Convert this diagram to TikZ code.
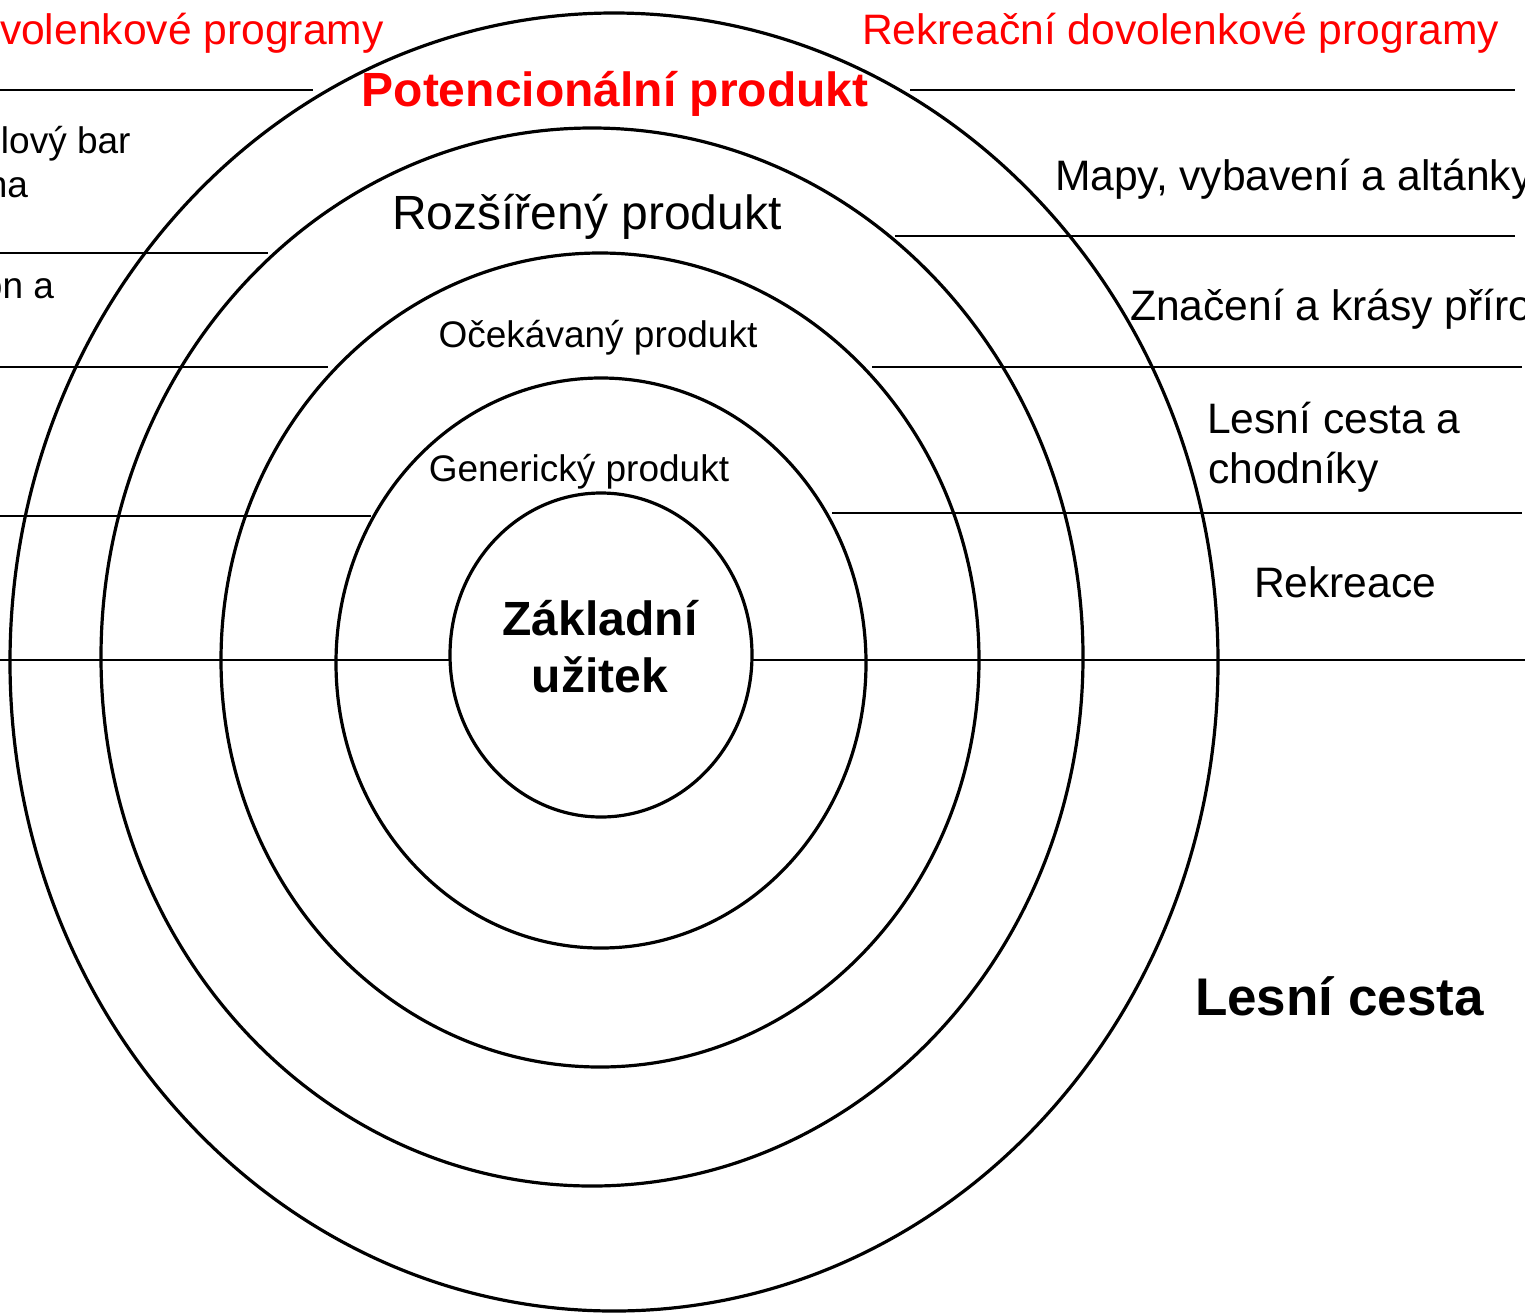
\documentclass[tikz,border=0pt]{standalone}
\usepackage{fontspec}
\setmainfont{Liberation Sans}
\definecolor{redtxt}{RGB}{255,0,0}
\begin{document}
\begin{tikzpicture}[x=1pt,y=-1pt,
  ring/.style={draw=black,line width=3.2pt},
  rule/.style={draw=black,line width=1.6pt},
  lbl/.style={inner sep=0pt,outer sep=0pt,text=black},
  big/.style={font=\fontsize{42.6}{50}\selectfont},
  mid/.style={font=\fontsize{37}{44}\selectfont},
  head/.style={font=\fontsize{48}{56}\selectfont},
  headb/.style={font=\bfseries\fontsize{48}{56}\selectfont},
]
\useasboundingbox (0,0) rectangle (1525,1312);
\clip (0,0) rectangle (1525,1312);
\fill[white] (0,0) rectangle (1525,1312);

% concentric rings
\draw[ring] (614,662) ellipse [x radius=604pt, y radius=649pt];
\draw[ring] (592,657) ellipse [x radius=491pt, y radius=529pt];
\draw[ring] (600,660) ellipse [x radius=379pt, y radius=407pt];
\draw[ring] (601,663) ellipse [x radius=265pt, y radius=285pt];
\draw[ring] (601,655) ellipse [x radius=151pt, y radius=162pt];

% named end points of the rules
\coordinate (l90a) at (0,90);     \coordinate (l90b) at (313,90);
\coordinate (r90a) at (910,90);   \coordinate (r90b) at (1515,90);
\coordinate (r236a) at (895,236); \coordinate (r236b) at (1515,236);
\coordinate (l253a) at (0,253);   \coordinate (l253b) at (268,253);
\coordinate (l367a) at (0,367);   \coordinate (l367b) at (328,367);
\coordinate (r367a) at (872,367); \coordinate (r367b) at (1522,367);
\coordinate (l516a) at (0,516);   \coordinate (l516b) at (371,516);
\coordinate (r513a) at (832,513); \coordinate (r513b) at (1522,513);
\coordinate (l660a) at (0,660);   \coordinate (l660b) at (449,660);
\coordinate (r660a) at (752,660); \coordinate (r660b) at (1525,660);

\draw[rule] (l90a) -- (l90b);
\draw[rule] (r90a) -- (r90b);
\draw[rule] (r236a) -- (r236b);
\draw[rule] (l253a) -- (l253b);
\draw[rule] (l367a) -- (l367b);
\draw[rule] (r367a) -- (r367b);
\draw[rule] (l516a) -- (l516b);
\draw[rule] (r513a) -- (r513b);
\draw[rule] (l660a) -- (l660b);
\draw[rule] (r660a) -- (r660b);

% red headings
\node[lbl,big,text=redtxt,anchor=base west] (tl) at (0,44) {volenkové programy};
\node[lbl,big,text=redtxt,anchor=base west] (tr) at (862,44) {Rekreační dovolenkové programy};
\node[lbl,headb,text=redtxt,anchor=base] (pot) at (615,106) {Potencionální produkt};

% ring labels
\node[lbl,head,anchor=base] (roz) at (587,229) {Rozšířený produkt};
\node[lbl,mid,anchor=base] (oce) at (598,347) {Očekávaný produkt};
\node[lbl,mid,anchor=base] (gen) at (579,481) {Generický produkt};
\node[lbl,headb,anchor=base] (zak1) at (600,635) {Základní};
\node[lbl,headb,anchor=base] (zak2) at (600,692) {užitek};

% right column
\node[lbl,big,anchor=base west] (mapy) at (1055,190) {Mapy, vybavení a altánky};
\node[lbl,big,anchor=base west] (zna) at (1130,320) {Značení a krásy přírody};
\node[lbl,big,anchor=base west] (les1) at (1207,433) {Lesní cesta a};
\node[lbl,big,anchor=base west] (les2) at (1208,483) {chodníky};
\node[lbl,big,anchor=base west] (rek) at (1254,597) {Rekreace};
\node[lbl,anchor=base west,font=\bfseries\fontsize{53}{60}\selectfont] (lesb) at (1195,1015) {Lesní cesta};

% left column (as visible at the edge)
\node[lbl,mid,anchor=base west] (bar) at (1,153) {lový bar};
\node[lbl,mid,anchor=base east] (na) at (28,197) {na};
\node[lbl,mid,anchor=base east] (ona) at (54,298) {on a};
\end{tikzpicture}
\end{document}
